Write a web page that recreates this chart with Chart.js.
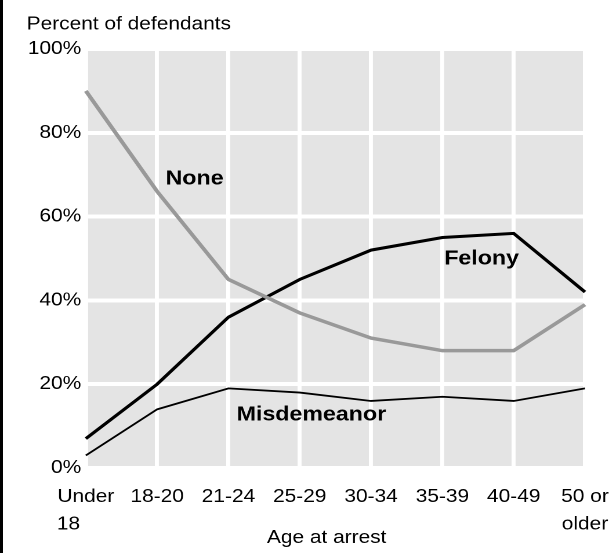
<!DOCTYPE html>
<html>
<head>
<meta charset="utf-8">
<script src="https://cdn.jsdelivr.net/npm/chart.js@4"></script>
<style>
  body { margin: 0; background: #fff; }
  #wrap {
    position: absolute; left: 0; top: 0;
    width: 525px; height: 553px;
    transform: scaleX(1.16); transform-origin: 0 0;
  }
  #edge { position: absolute; left: 0; top: 0; width: 3px; height: 553px; background: #000; z-index: 2; }
</style>
</head>
<body>
<div id="edge"></div>
<div id="wrap"><canvas id="chart"></canvas></div>
<script>
const ageGroups = [["Under", "18      "], "18-20", "21-24", "25-29", "30-34", "35-39", "40-49", ["50 or", "older"]];
const noneValues = [90, 66, 45, 37, 31, 28, 28, 39];
const felonyValues = [7, 20, 36, 45, 52, 55, 56, 42];
const misdemeanorValues = [3, 14, 19, 18, 16, 17, 16, 19];

const yTitle = "Percent of defendants";
const xTitle = "Age at arrest";

// where the series names sit, in category index / percent
const seriesLabels = [
  { text: "None", x: 1.525, y: 69 },
  { text: "Felony", x: 5.55, y: 49.9 },
  { text: "Misdemeanor", x: 3.163, y: 12.7 },
];

const FONT = '"Liberation Sans", Arial, sans-serif';
Chart.defaults.font.family = FONT;
Chart.defaults.font.size = 18;
Chart.defaults.color = "#000";

const plotBackground = {
  id: "plotBackground",
  beforeDraw(chart) {
    const { ctx, chartArea: a } = chart;
    ctx.save();
    ctx.fillStyle = "#e4e4e4";
    ctx.fillRect(a.left, a.top, a.right - a.left, a.bottom - a.top);
    ctx.restore();
  },
};

const textBits = {
  id: "textBits",
  afterDatasetsDraw(chart) {
    const { ctx, scales } = chart;
    ctx.save();
    ctx.fillStyle = "#000";
    ctx.textBaseline = "middle";
    // y axis title, sits flat above the plot
    ctx.font = "18px " + FONT;
    ctx.textAlign = "left";
    ctx.fillText(yTitle, 23, 24.5);
    // series names
    ctx.font = "bold 20px " + FONT;
    ctx.textAlign = "center";
    seriesLabels.forEach((l) => {
      ctx.fillText(l.text, scales.x.getPixelForValue(l.x), scales.y.getPixelForValue(l.y));
    });
    ctx.restore();
  },
};

new Chart(document.getElementById("chart"), {
  type: "line",
  data: {
    labels: ageGroups,
    datasets: [
      { label: "None", data: noneValues, borderColor: "#999999", borderWidth: 3.5 },
      { label: "Felony", data: felonyValues, borderColor: "#000", borderWidth: 3 },
      { label: "Misdemeanor", data: misdemeanorValues, borderColor: "#000", borderWidth: 1.8 },
    ],
  },
  options: {
    responsive: true,
    maintainAspectRatio: false,
    devicePixelRatio: 2,
    animation: false,
    layout: { padding: { left: 23, right: 20.7, top: 49, bottom: 0 } },
    elements: { point: { radius: 0 }, line: { tension: 0 } },
    plugins: {
      legend: { display: false },
      tooltip: { enabled: false },
      title: { display: false },
    },
    scales: {
      x: {
        offset: false,
        grid: { color: "#fff", lineWidth: 3.45, drawTicks: false },
        border: { display: false },
        ticks: { padding: 15.25, maxRotation: 0, autoSkip: false, font: { size: 18, lineHeight: 1.53 } },
        title: {
          display: true,
          text: xTitle + "   ",
          font: { size: 18 },
          padding: { top: 0, bottom: 4.2 },
        },
        afterFit(scale) {
          scale.height = 85;
          scale.paddingLeft = 0;
          scale.paddingRight = 0;
        },
      },
      y: {
        min: 0,
        max: 100,
        grid: { color: "#fff", lineWidth: 4, drawTicks: false },
        border: { display: false },
        ticks: { stepSize: 20, padding: 4, callback: (v) => v + "%" },
        afterFit(scale) {
          scale.width = 51;
          scale.paddingTop = 0;
          scale.paddingBottom = 0;
        },
      },
    },
  },
  plugins: [plotBackground, textBits],
});
</script>
</body>
</html>
